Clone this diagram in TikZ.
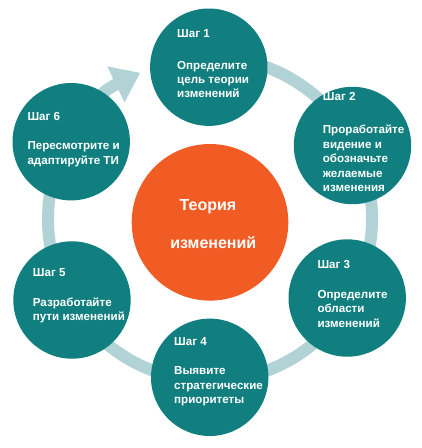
\documentclass[tikz,border=0pt]{standalone}
\usepackage{fontspec}
\setmainfont{Liberation Sans}
\usetikzlibrary{arrows.meta}
\definecolor{tealc}{RGB}{17,127,128}
\definecolor{orangec}{RGB}{241,91,36}
\definecolor{ringc}{RGB}{178,211,213}
\tikzset{
  stepc/.style={circle,fill=tealc,draw=none,inner sep=0pt,minimum size=117.4pt},
  corec/.style={circle,fill=orangec,draw=none,inner sep=0pt,minimum size=156.6pt},
  ringline/.style={draw=ringc,line width=12pt},
  steplbl/.style={text=white,inner sep=0pt,anchor=base west,font=\bfseries\fontsize{11.6}{14.4}\selectfont},
  stepbody/.style={text=white,inner sep=0pt,anchor=north west,align=left,font=\bfseries\fontsize{11.6}{14.4}\selectfont},
  coretxt/.style={text=white,inner sep=0pt,anchor=base,font=\bfseries\fontsize{16}{19}\selectfont}
}
\begin{document}
\begin{tikzpicture}[x=1pt,y=1pt]
\useasboundingbox[fill=white] (0,0) rectangle (422,-448);
\coordinate (rc) at (210,-219);
\coordinate (rtop) at ([shift={(90:162pt)}]rc);
\draw[ringline,-{Triangle[length=27pt,width=38pt]}] (rtop) arc[start angle=90,end angle=-244.5,radius=162pt];
\node[corec] (core) at (210,-222.3) {};
\node[stepc] (s1) at (208.8,-67.2) {};
\node[stepc] (s2) at (352.5,-145.5) {};
\node[stepc] (s3) at (347.2,-298) {};
\node[stepc] (s4) at (209.7,-377.3) {};
\node[stepc] (s5) at (72,-300) {};
\node[stepc] (s6) at (71.2,-141.7) {};
\node[coretxt] (ct1) at (208,-210) {Теория};
\node[coretxt] (ct2) at (213.3,-248.3) {изменений};
\node[steplbl] (l1) at (177,-37) {Шаг 1};
\node[stepbody] (b1) at (177,-60.7) {Определите\\цель теории\\изменений};
\node[steplbl] (l2) at (322.7,-100.7) {Шаг 2};
\node[stepbody] (b2) at (322.7,-125) {Проработайте\\видение и\\обозначьте\\желаемые\\изменения};
\node[steplbl] (l3) at (317.3,-268.3) {Шаг 3};
\node[stepbody] (b3) at (317.3,-290) {Определите\\области\\изменений};
\node[steplbl] (l4) at (174,-345) {Шаг 4};
\node[stepbody] (b4) at (174,-366.7) {Выявите\\стратегические\\приоритеты};
\node[steplbl] (l5) at (32.7,-276.7) {Шаг 5};
\node[stepbody] (b5) at (32.7,-297.7) {Разработайте\\пути изменений};
\node[steplbl] (l6) at (27.3,-120.7) {Шаг 6};
\node[stepbody] (b6) at (27.3,-141.7) {Пересмотрите и\\адаптируйте ТИ};
\end{tikzpicture}
\end{document}
